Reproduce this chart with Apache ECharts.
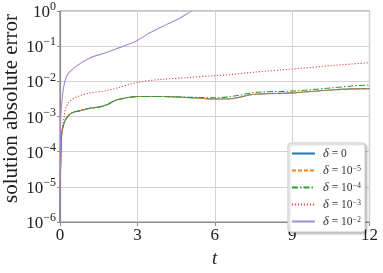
<!DOCTYPE html>
<html><head><meta charset="utf-8">
<script src="https://cdn.jsdelivr.net/npm/echarts@6/dist/echarts.min.js"></script>
<style>html,body{margin:0;padding:0;background:#fff}#c{width:383px;height:273px}</style>
</head><body><div id="c"></div>
<script>
// ---- data ----
const seriesNames = ['δ = 0', 'δ = 10^−5', 'δ = 10^−4', 'δ = 10^−3', 'δ = 10^−2'];
const yTickExponents = ['0', '−1', '−2', '−3', '−4', '−5', '−6'];
const xTicks = [0, 3, 6, 9, 12];

const tBase = [0, 0.02, 0.05, 0.07, 0.16, 0.29, 0.48, 0.74, 1.12, 1.51, 1.84, 2.16, 2.7, 3.0, 3.5, 4.0, 4.5, 5.0, 5.5, 6.0, 6.6, 7.0, 7.4, 7.8, 9.0, 10.5, 11.3, 12.0];
const err0 = [1e-6, 3e-5, 2e-4, 3.5e-4, 6.6e-4, 1.0e-3, 1.29e-3, 1.45e-3, 1.7e-3, 1.86e-3, 2.2e-3, 2.9e-3, 3.55e-3, 3.7e-3, 3.7e-3, 3.7e-3, 3.6e-3, 3.45e-3, 3.3e-3, 3.15e-3, 3.2e-3, 3.6e-3, 4.2e-3, 4.4e-3, 4.7e-3, 5.7e-3, 6.1e-3, 6.2e-3];
const err1e5 = [1e-6, 3e-5, 2e-4, 3.5e-4, 6.6e-4, 1.0e-3, 1.29e-3, 1.45e-3, 1.7e-3, 1.86e-3, 2.2e-3, 2.9e-3, 3.55e-3, 3.7e-3, 3.7e-3, 3.7e-3, 3.6e-3, 3.45e-3, 3.3e-3, 3.15e-3, 3.2e-3, 3.6e-3, 4.2e-3, 4.4e-3, 4.7e-3, 5.7e-3, 6.1e-3, 6.2e-3];
const err1e4 = [1e-6, 3e-5, 2e-4, 3.5e-4, 6.6e-4, 1.0e-3, 1.29e-3, 1.45e-3, 1.7e-3, 1.86e-3, 2.2e-3, 2.9e-3, 3.55e-3, 3.7e-3, 3.7e-3, 3.72e-3, 3.65e-3, 3.55e-3, 3.45e-3, 3.4e-3, 3.7e-3, 4.1e-3, 4.7e-3, 5.0e-3, 5.3e-3, 6.5e-3, 7.4e-3, 7.8e-3];

const tRed = [0, 0.02, 0.05, 0.1, 0.16, 0.22, 0.35, 0.61, 1.12, 1.77, 2.16, 3.0, 4.0, 5.0, 6.0, 6.6, 7.36, 9.0, 10.5, 12.0];
const err1e3 = [1e-6, 3e-5, 2e-4, 5e-4, 9.5e-4, 1.7e-3, 2.57e-3, 3.55e-3, 4.6e-3, 5.4e-3, 6.3e-3, 9.4e-3, 1.15e-2, 1.29e-2, 1.46e-2, 1.55e-2, 1.78e-2, 2.24e-2, 2.8e-2, 3.4e-2];

const tPurple = [0, 0.01, 0.03, 0.09, 0.16, 0.29, 0.61, 1.12, 1.77, 2.16, 2.96, 3.48, 4.12, 4.6, 5.03, 5.1];
const err1e2 = [1e-6, 1e-4, 1e-3, 3.5e-3, 8.1e-3, 1.55e-2, 2.63e-2, 4.5e-2, 6.5e-2, 8.3e-2, 0.141, 0.24, 0.41, 0.6, 0.93, 1.0];

// ---- chart ----
const zip = (t, v) => t.map((x, i) => [x, v[i]]);
const FONT = 'Liberation Serif';
const axisColor = '#8c8c8c';
const gridColor = '#d3d3d3';

function legendLabel(name) {
  const parts = name.split('^');
  const s = '{d|δ}{n| = ';
  if (parts.length === 1) return s + parts[0].replace('δ = ', '') + '}';
  return s + parts[0].replace('δ = ', '') + '}{s|' + parts[1] + '}';
}

const chart = echarts.init(document.getElementById('c'), null, {renderer: 'canvas'});
const mk = (name, data, color, type, z) => ({
  name, type: 'line', data, symbol: 'none', showSymbol: false, smooth: 0.3, z,
  lineStyle: {color, width: 1.1, type},
  itemStyle: {color}
});

chart.setOption({
  animation: false,
  backgroundColor: '#fff',
  grid: {left: 60, right: 13.5, top: 11, bottom: 44, show: true, borderColor: axisColor, borderWidth: 1.2, backgroundColor: 'transparent'},
  xAxis: {
    type: 'value', min: 0, max: 12, interval: 3,
    name: 't', nameLocation: 'middle', nameGap: 22,
    nameTextStyle: {fontFamily: FONT, fontStyle: 'italic', fontSize: 19, color: '#222'},
    axisLine: {show: true, lineStyle: {color: axisColor, width: 1.2}},
    axisTick: {show: true, length: 4, lineStyle: {color: axisColor}},
    axisLabel: {fontFamily: FONT, fontSize: 17, color: '#222', margin: 5,
      formatter: v => xTicks.indexOf(v) >= 0 ? String(v) : ''},
    splitLine: {show: true, lineStyle: {color: gridColor, width: 1}}
  },
  yAxis: {
    type: 'log', logBase: 10, min: 1e-6, max: 1,
    axisLine: {show: true, lineStyle: {color: axisColor, width: 1.2}},
    axisTick: {show: true, length: 3, lineStyle: {color: axisColor}},
    minorTick: {show: false},
    axisLabel: {
      margin: 4,
      formatter: v => {
        const e = Math.round(Math.log10(v));
        return '{b|10}{s|' + yTickExponents[-e] + '}';
      },
      rich: {
        b: {fontFamily: FONT, fontSize: 17, color: '#222', lineHeight: 20, verticalAlign: 'bottom'},
        s: {fontFamily: FONT, fontSize: 12, color: '#222', lineHeight: 20, verticalAlign: 'top'}
      }
    },
    splitLine: {show: true, lineStyle: {color: gridColor, width: 1}}
  },
  legend: {
    orient: 'vertical', right: 18, top: 143,
    itemWidth: 23, itemHeight: 8, itemGap: 4,
    padding: [4, 4, 4, 3],
    backgroundColor: '#fff', borderColor: '#cccccc', borderWidth: 1, borderRadius: 3,
    shadowColor: 'rgba(0,0,0,0.25)', shadowBlur: 2, shadowOffsetX: 1.5, shadowOffsetY: 1.5,
    itemStyle: {opacity: 0},
    data: seriesNames.map(n => ({name: n})),
    formatter: legendLabel,
    textStyle: {
      color: '#222', fontFamily: FONT, padding: [0, 0, 0, 3],
      rich: {
        d: {fontFamily: FONT, fontStyle: 'italic', fontSize: 12.5, color: '#333', lineHeight: 11},
        n: {fontFamily: FONT, fontSize: 11.5, color: '#333', lineHeight: 11},
        s: {fontFamily: FONT, fontSize: 8, color: '#333', lineHeight: 11, verticalAlign: 'top'}
      }
    }
  },
  series: [
    mk(seriesNames[0], zip(tBase, err0), '#1f77b4', 'solid', 2),
    mk(seriesNames[1], zip(tBase, err1e5), '#ff7f0e', [4, 2], 3),
    mk(seriesNames[2], zip(tBase, err1e4), '#2ca02c', [6, 2, 1.5, 2], 4),
    mk(seriesNames[3], zip(tRed, err1e3), '#e0474a', [1.2, 1.8], 5),
    mk(seriesNames[4], zip(tPurple, err1e2), '#a98bd0', 'solid', 6)
  ],
  graphic: [{
    type: 'text', left: 1, top: 14, rotation: Math.PI / 2,
    style: {text: 'solution absolute error', fontFamily: FONT, fontSize: 21, fill: '#222'}
  }]
});
</script></body></html>
